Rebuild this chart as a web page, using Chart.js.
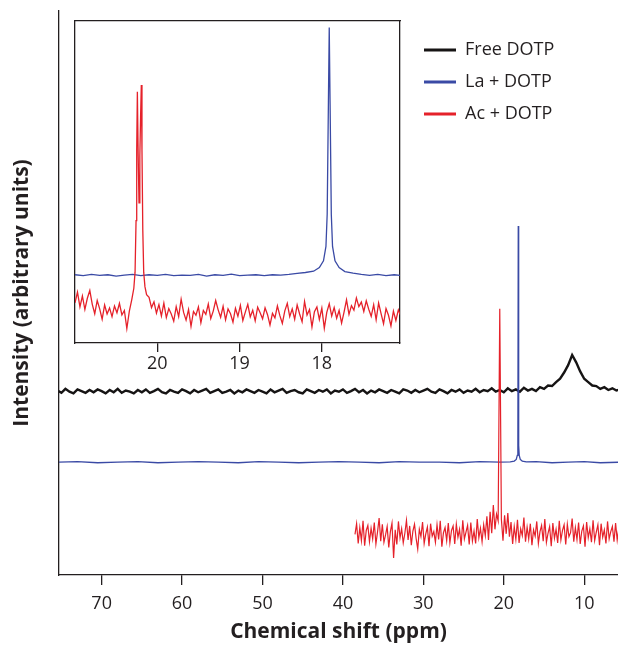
<!DOCTYPE html>
<html>
<head>
<meta charset="utf-8">
<script src="https://cdn.jsdelivr.net/npm/chart.js@4/dist/chart.umd.min.js"></script>
<style>
  html, body { margin: 0; padding: 0; background: #ffffff; }
  #wrap { position: relative; width: 618px; height: 646px; }
  #mainChart { position: absolute; left: 0; top: 0; }
  #insetChart { position: absolute; left: 60px; top: 0; pointer-events: none; }
</style>
</head>
<body>
<div id="wrap">
  <canvas id="mainChart" width="618" height="646"></canvas>
  <canvas id="insetChart" width="558" height="380"></canvas>
</div>
<script>
// ---------------- DATA (chemical shift in ppm, intensity in arbitrary units) ----------------
const seriesNames = ['Free DOTP', 'La + DOTP', 'Ac + DOTP'];
const mainTicks = [70, 60, 50, 40, 30, 20, 10];
const insetTicks = [20, 19, 18];

// Free DOTP, main panel: sampled every 0.5 ppm from 75.5 ppm down to 5.5 ppm
const freeStartPpm = 75.5;
const freeStepPpm = -0.5;
const freeValues = [
  32.7,32.3,33.0,32.5,32.2,32.9,32.6,32.3,32.8,32.4,
  32.9,32.6,32.2,32.8,32.4,33.0,32.3,32.7,32.5,32.2,
  32.8,32.4,32.9,32.3,32.6,33.0,32.4,32.2,32.8,32.5,
  32.3,32.9,32.6,32.2,32.8,32.4,32.7,33.0,32.3,32.6,
  32.9,32.3,32.5,32.8,32.2,32.7,32.4,32.9,32.6,32.3,
  32.8,32.5,32.2,32.9,32.4,32.7,33.0,32.3,32.6,32.8,
  32.4,32.2,32.9,32.6,32.3,32.8,32.5,32.9,32.2,32.7,
  32.5,32.9,32.3,32.6,33.0,32.4,32.8,32.2,32.7,32.4,
  32.9,32.6,32.3,32.8,32.5,32.2,32.9,32.7,32.3,32.8,
  32.4,32.7,33.0,32.5,32.3,32.9,32.6,32.2,32.8,32.5,
  32.9,32.3,32.7,32.5,33.0,32.4,32.8,32.6,33.1,32.5,
  32.8,32.4,33.1,32.6,32.9,32.5,33.2,32.7,33.0,32.6,
  33.3,33.0,33.6,33.5,34.2,34.8,35.9,37.2,39.0,37.7,
  36.1,34.8,34.2,33.6,33.5,33.0,33.3,32.8,33.1,32.7,32.9
];

// La + DOTP, main panel
const laMainPpm = [75.5,73,70.5,68,65.5,63,60.5,58,55.5,53,50.5,48,45.5,43,40.5,38,35.5,33,30.5,28,25.5,23,20.5,
  19.2,18.7,18.45,18.32,18.25,18.2,18.15,18.08,17.95,17.7,17.2,16,14,12,10,8,5.5];
const laMainValues = [20.0,20.1,19.9,20.0,20.1,19.9,20.0,20.1,20.0,19.9,20.1,20.0,19.9,20.0,20.1,20.0,19.9,20.1,20.0,20.0,19.9,20.1,20.0,
  20.05,20.2,20.5,21.2,23.0,61.9,23.0,21.2,20.5,20.2,20.05,20.1,19.9,20.0,20.1,19.9,20.0];

// Ac + DOTP, main panel: sampled every 0.2 ppm from 38.5 ppm down to 5.5 ppm
const acMainStartPpm = 38.5;
const acMainStepPpm = -0.2;
const acMainValues = [
  7.2,9.1,5.6,8.4,6.1,9.6,5.2,7.9,8.8,5.9,
  8.3,6.4,9.3,5.5,7.6,10.1,6.0,9.0,5.8,7.1,
  8.6,4.9,7.7,9.2,3.0,8.0,5.4,9.5,6.6,8.2,
  5.7,7.4,9.7,6.2,8.7,5.3,7.8,9.0,6.5,4.6,
  8.1,6.8,9.4,5.6,7.3,8.5,5.1,9.1,6.9,7.7,
  5.8,8.9,6.3,9.6,5.0,7.5,8.4,6.1,9.2,5.7,
  7.9,8.7,5.5,9.0,6.7,8.1,5.2,9.7,6.4,7.6,
  8.8,5.4,9.3,6.0,7.8,5.6,9.9,6.6,8.3,5.9,
  8.9,7.0,10.4,6.2,11.2,7.4,12.4,8.1,10.8,9.6,
  47.2,
  9.9,6.1,10.6,7.3,11.0,6.8,9.4,5.5,8.6,
  6.3,9.8,5.7,8.2,7.0,10.2,5.9,8.5,6.4,9.1,
  5.3,8.0,6.9,9.5,5.6,7.7,8.8,6.0,9.9,5.8,
  7.4,8.6,5.1,9.2,6.5,8.1,5.7,9.6,6.2,7.9,
  8.9,5.4,9.0,6.8,7.5,10.0,5.9,8.4,6.3,9.3,
  5.5,7.8,8.7,5.0,9.4,6.6,8.2,5.8,9.7,6.1,
  7.6,8.9,5.3,9.1,6.7,8.0,5.6,9.5,6.4,7.7,
  8.6,5.9,9.2,6.2,8.3,7.0
];

// La + DOTP, inset
const laInsetPpm = [21.0,20.9,20.8,20.7,20.6,20.5,20.4,20.3,20.2,20.1,20.0,19.9,19.8,19.7,19.6,19.5,19.4,19.3,19.2,19.1,
  19.0,18.9,18.8,18.7,18.6,18.5,18.4,18.3,18.2,18.1,
  18.03,17.98,17.95,17.935,17.92,17.91,17.90,17.885,17.87,17.84,17.79,17.72,17.62,17.52,17.42,17.32,17.22,17.12,17.04];
const laInsetValues = [21.2,20.9,21.3,21.0,21.2,20.8,21.1,21.3,20.9,21.2,21.0,21.3,20.9,21.1,21.0,21.3,20.8,21.2,21.0,21.4,
  20.9,21.1,21.2,20.9,21.2,21.1,21.3,21.6,21.9,22.3,
  23.4,25.5,30.0,40.0,75.0,98.0,75.0,40.0,30.0,25.5,23.4,22.2,21.7,21.3,21.0,21.3,20.9,21.2,21.0];

// Ac + DOTP, inset: noise left of the doublet (every 0.03 ppm from 21.00 ppm)
const acInsetLeftStartPpm = 21.0;
const acInsetStepPpm = -0.03;
const acInsetLeftValues = [12.5,15.8,11.2,14.6,10.4,13.9,16.3,12.0,9.1,13.2,10.6,7.4,11.8,9.0,10.9,8.2,11.5,9.4,12.3,8.7,10.1,4.5,9.8];
// Ac + DOTP, inset: doublet
const acInsetPeakPpm = [20.31,20.285,20.27,20.258,20.25,20.242,20.232,20.222,20.212,20.203,20.194,20.186,20.176,20.165,20.15,20.13];
const acInsetPeakValues = [13.5,17.0,22.0,38.0,60.0,78.0,58.0,43.5,58.0,70.0,80.1,60.0,35.0,22.0,17.5,15.0];
// Ac + DOTP, inset: noise right of the doublet (every 0.03 ppm from 20.10 ppm)
const acInsetRightStartPpm = 20.10;
const acInsetRightValues = [
  14.2,11.0,12.8,9.3,11.9,8.4,12.4,7.9,10.7,9.0,
  6.8,11.3,8.2,13.6,9.5,7.1,10.4,5.2,9.8,8.6,
  11.2,6.3,10.1,8.9,12.1,7.6,9.9,13.2,10.3,8.0,
  11.4,7.2,10.6,9.1,6.5,10.8,8.3,11.7,7.0,9.6,
  12.0,8.1,10.2,6.9,11.1,9.4,7.5,10.9,8.8,5.6,
  9.2,7.8,11.5,8.5,6.1,10.0,12.3,8.2,10.6,7.4,
  11.8,9.0,6.6,12.9,8.7,10.4,5.0,9.7,11.2,7.3,
  10.8,4.6,9.5,12.2,8.4,11.0,7.7,10.1,6.2,9.6,
  13.4,8.9,11.6,10.2,14.0,11.3,12.7,9.8,13.1,10.5,
  8.3,11.9,7.2,12.4,9.1,6.0,10.7,8.6,5.3,9.9,
  7.0,10.3,8.4
];

// ---------------- helpers ----------------
const gridPoints = (start, step, vals) => vals.map((v, i) => ({ x: +(start + i * step).toFixed(4), y: v }));
const pairPoints = (ppm, vals) => ppm.map((p, i) => ({ x: p, y: vals[i] }));

const C_BLACK = '#161414';
const C_BLUE = '#3a4aa5';
const C_RED = '#e5212a';
const C_TEXT = '#231f20';
const AXIS_W = 1.3;

Chart.defaults.font.family = '"Open Sans", "DejaVu Sans", sans-serif';
Chart.defaults.color = C_TEXT;

const fixedTicks = (arr) => (scale) => { scale.ticks = arr.map(v => ({ value: v })); };

// ---------------- main chart ----------------
new Chart(document.getElementById('mainChart'), {
  type: 'line',
  data: {
    datasets: [
      { label: seriesNames[0], data: gridPoints(freeStartPpm, freeStepPpm, freeValues),
        borderColor: C_BLACK, backgroundColor: C_BLACK, borderWidth: 2.4, order: 3 },
      { label: seriesNames[1], data: pairPoints(laMainPpm, laMainValues),
        borderColor: C_BLUE, backgroundColor: C_BLUE, borderWidth: 1.3, order: 2 },
      { label: seriesNames[2], data: gridPoints(acMainStartPpm, acMainStepPpm, acMainValues),
        borderColor: C_RED, backgroundColor: C_RED, borderWidth: 1.2, order: 1 }
    ]
  },
  options: {
    responsive: false, animation: false, devicePixelRatio: 1,
    parsing: false, normalized: true,
    elements: { point: { radius: 0 }, line: { tension: 0, fill: false } },
    layout: { padding: { top: 11, right: 0, bottom: 0, left: 0 } },
    plugins: { legend: { display: false }, tooltip: { enabled: false } },
    scales: {
      x: {
        type: 'linear', reverse: true, min: 5.8, max: 75.3,
        afterBuildTicks: fixedTicks(mainTicks),
        afterFit: (s) => { s.height = 71; },
        grid: { display: true, drawOnChartArea: false, drawTicks: true, tickLength: 10, color: C_TEXT, lineWidth: AXIS_W },
        border: { display: true, color: C_TEXT, width: AXIS_W },
        ticks: { font: { size: 18 }, color: C_TEXT, padding: 8, maxRotation: 0 },
        title: { display: true, text: 'Chemical shift (ppm)', font: { size: 21, weight: 'bold' }, color: C_TEXT, padding: { top: 0, bottom: 1 } }
      },
      y: {
        type: 'linear', min: 0, max: 100,
        afterFit: (s) => { s.width = 59; },
        grid: { display: false },
        border: { display: true, color: C_TEXT, width: AXIS_W },
        ticks: { display: false },
        title: { display: true, text: 'Intensity (arbitrary units)', font: { size: 21, weight: 'bold' }, color: C_TEXT, padding: { top: 9, bottom: 0 } }
      }
    }
  }
});

// ---------------- inset chart ----------------
const legendColors = [C_BLACK, C_BLUE, C_RED];
const inset = new Chart(document.getElementById('insetChart'), {
  type: 'line',
  data: {
    datasets: [
      { label: seriesNames[0], data: [], borderColor: C_BLACK, backgroundColor: C_BLACK, borderWidth: 1.3, order: 3 },
      { label: seriesNames[1], data: pairPoints(laInsetPpm, laInsetValues),
        borderColor: C_BLUE, backgroundColor: C_BLUE, borderWidth: 1.3, order: 2 },
      { label: seriesNames[2], data: gridPoints(acInsetLeftStartPpm, acInsetStepPpm, acInsetLeftValues)
          .concat(pairPoints(acInsetPeakPpm, acInsetPeakValues))
          .concat(gridPoints(acInsetRightStartPpm, acInsetStepPpm, acInsetRightValues)),
        borderColor: C_RED, backgroundColor: C_RED, borderWidth: 1.3, order: 1 }
    ]
  },
  options: {
    responsive: false, animation: false, devicePixelRatio: 1,
    parsing: false,
    elements: { point: { radius: 0 }, line: { tension: 0, fill: false } },
    layout: { padding: { top: 21, right: 0, bottom: 0, left: 15 } },
    plugins: {
      tooltip: { enabled: false },
      legend: {
        display: true, position: 'right', align: 'start', maxWidth: 240,
        title: { display: true, text: '', padding: 0, font: { size: 5 } },
        labels: {
          boxWidth: 32, boxHeight: 3, padding: 14,
          font: { size: 18 }, color: C_TEXT,
          generateLabels: (chart) => chart.data.datasets.map((ds, i) => ({
            text: ds.label, fillStyle: legendColors[i], strokeStyle: legendColors[i],
            lineWidth: 0, hidden: false, datasetIndex: i, fontColor: C_TEXT
          }))
        }
      }
    },
    scales: {
      x: {
        type: 'linear', reverse: true, min: 17.05, max: 21.0, position: 'bottom',
        afterBuildTicks: fixedTicks(insetTicks),
        afterFit: (s) => { s.height = 37; },
        grid: { display: true, drawOnChartArea: false, drawTicks: true, tickLength: 9, color: C_TEXT, lineWidth: AXIS_W },
        border: { display: true, color: C_TEXT, width: AXIS_W },
        ticks: { font: { size: 18 }, color: C_TEXT, padding: 1, maxRotation: 0 }
      },
      y: {
        type: 'linear', min: 0, max: 100, position: 'left',
        afterFit: (s) => { s.width = 0; },
        grid: { display: false }, ticks: { display: false },
        border: { display: true, color: C_TEXT, width: AXIS_W }
      },
      xTop: {
        type: 'linear', position: 'top', display: true,
        afterFit: (s) => { s.height = 0; },
        grid: { display: false }, ticks: { display: false },
        border: { display: true, color: C_TEXT, width: AXIS_W }
      },
      yRight: {
        type: 'linear', position: 'right', display: true,
        afterFit: (s) => { s.width = 10; },
        grid: { display: false }, ticks: { display: false },
        border: { display: true, color: C_TEXT, width: AXIS_W }
      }
    }
  }
});
// put the legend so that the inset frame's right edge lands at x = 400 on the page
const shift = inset.legend.left - 350;
inset.options.layout.padding.right = Math.max(0, shift);
inset.update('none');
</script>
</body>
</html>
